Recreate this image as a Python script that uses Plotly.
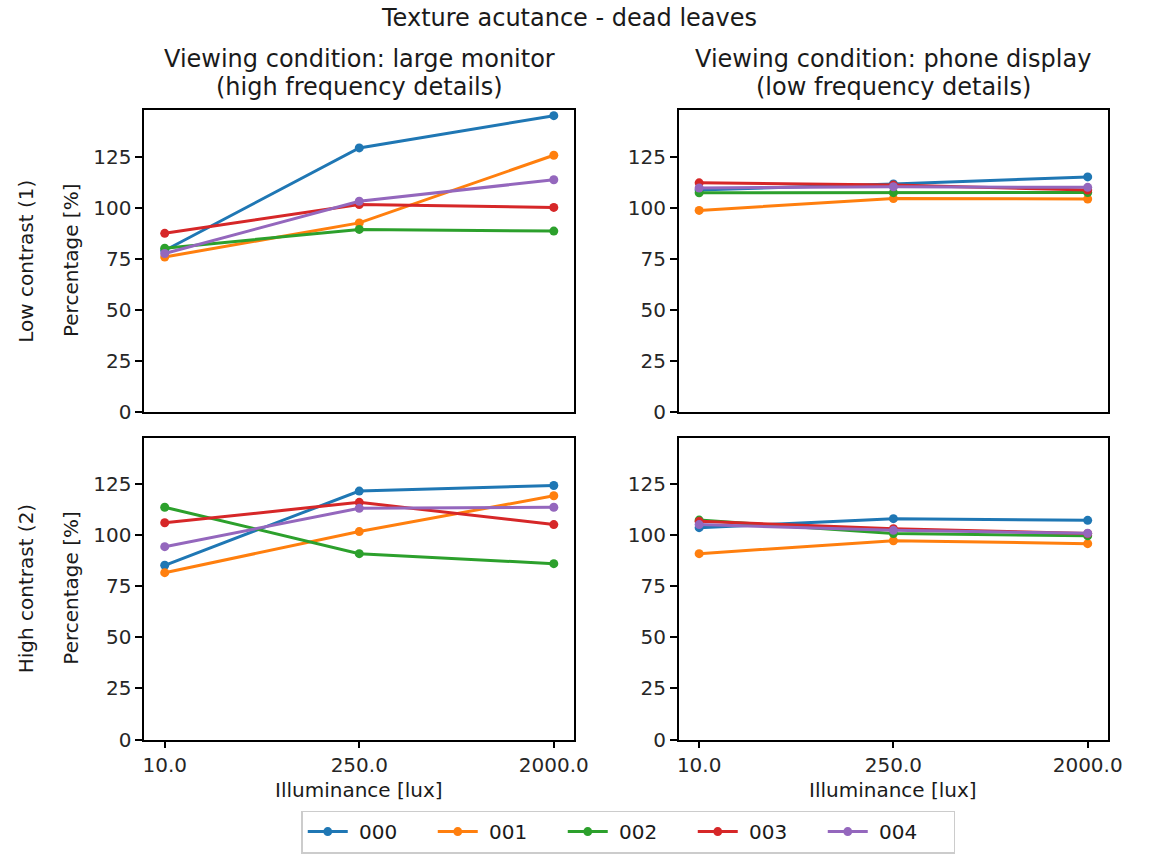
import plotly.graph_objects as go

# Illuminance levels (categorical x) and device series
illuminance = ["10.0", "250.0", "2000.0"]
series_names = ["000", "001", "002", "003", "004"]
colors = ["#1f77b4", "#ff7f0e", "#2ca02c", "#d62728", "#9467bd"]

# Low contrast, large monitor
low_monitor = {
    "000": [79.0, 129.2, 145.0],
    "001": [75.8, 92.5, 125.6],
    "002": [80.1, 89.3, 88.5],
    "003": [87.4, 101.5, 100.1],
    "004": [77.5, 103.1, 113.6],
}
# Low contrast, phone display
low_phone = {
    "000": [108.6, 111.6, 115.0],
    "001": [98.6, 104.4, 104.2],
    "002": [107.2, 107.3, 107.4],
    "003": [112.1, 111.0, 108.6],
    "004": [109.6, 110.2, 109.9],
}
# High contrast, large monitor
high_monitor = {
    "000": [85.2, 121.5, 124.2],
    "001": [81.6, 101.7, 119.2],
    "002": [113.6, 90.9, 86.0],
    "003": [106.0, 116.0, 105.1],
    "004": [94.3, 113.1, 113.6],
}
# High contrast, phone display
high_phone = {
    "000": [103.6, 108.0, 107.2],
    "001": [90.9, 97.2, 95.8],
    "002": [107.3, 100.7, 99.6],
    "003": [106.7, 103.1, 100.7],
    "004": [105.1, 102.3, 100.9],
}

W, H = 1149, 859
FONT = "DejaVu Sans"

# panel boxes in pixels: (left, right, top, bottom)
panels = {
    (1, 1): (144.3, 580.3, 111.7, 417.7),
    (1, 2): (686.3, 1121.7, 111.7, 417.7),
    (2, 1): (144.3, 580.3, 443.7, 750.0),
    (2, 2): (686.3, 1121.7, 443.7, 750.0),
}
panel_data = {
    (1, 1): low_monitor,
    (1, 2): low_phone,
    (2, 1): high_monitor,
    (2, 2): high_phone,
}

fig = go.Figure()
layout = {}
for idx, ((r, c), (l, rt, t, b)) in enumerate(panels.items(), start=1):
    xa = "xaxis" if idx == 1 else f"xaxis{idx}"
    ya = "yaxis" if idx == 1 else f"yaxis{idx}"
    xref = "x" if idx == 1 else f"x{idx}"
    yref = "y" if idx == 1 else f"y{idx}"
    bottom_row = r == 2
    layout[xa] = dict(
        domain=[l / W, rt / W], anchor=yref, type="category",
        categoryorder="array", categoryarray=illuminance,
        range=[-0.105, 2.105],
        showline=True, mirror=True, linecolor="black", linewidth=1.6,
        ticks="outside" if bottom_row else "", ticklen=7, tickwidth=1.6, tickcolor="black",
        showticklabels=bottom_row, showgrid=False, zeroline=False,
        tickfont=dict(family=FONT, size=20, color="#262626"),
    )
    layout[ya] = dict(
        domain=[1 - b / H, 1 - t / H], anchor=xref,
        range=[0, 147.7], tickvals=[0, 25, 50, 75, 100, 125],
        showline=True, mirror=True, linecolor="black", linewidth=1.6,
        ticks="outside", ticklen=7, tickwidth=1.6, tickcolor="black",
        showgrid=False, zeroline=False,
        tickfont=dict(family=FONT, size=20, color="#262626"),
    )
    data = panel_data[(r, c)]
    for name, col in zip(series_names, colors):
        fig.add_trace(go.Scatter(
            x=illuminance, y=data[name], mode="lines+markers",
            name="\u00a0" + name,  # small gap between legend handle and label
            line=dict(color=col, width=3), marker=dict(color=col, size=9),
            xaxis=xref, yaxis=yref, showlegend=(idx == 1),
        ))

ann = []
def text(x, y, s, size=20, angle=0):
    ann.append(dict(x=x / W, y=1 - y / H, xref="paper", yref="paper", text=s,
                    showarrow=False, textangle=angle, xanchor="center", yanchor="middle",
                    font=dict(family=FONT, size=size, color="#1a1a1a")))

text(575, 18, "Texture acutance - dead leaves", 24)
text(362.3, 60, "Viewing condition: large monitor", 24)
text(362.3, 88, "(high frequency details)", 24)
text(904, 60, "Viewing condition: phone display", 24)
text(904, 88, "(low frequency details)", 24)
text(24, 264.7, "Low contrast (1)", 20, -90)
text(24, 597, "High contrast (2)", 20, -90)
text(70, 264.7, "Percentage [%]", 20, -90)
text(70, 597, "Percentage [%]", 20, -90)
text(362.3, 801, "Illuminance [lux]", 20)
text(904, 801, "Illuminance [lux]", 20)

fig.update_layout(
    **layout,
    width=W, height=H,
    margin=dict(l=0, r=0, t=0, b=0),
    paper_bgcolor="white", plot_bgcolor="white",
    annotations=ann,
    showlegend=True,
    legend=dict(
        orientation="h", x=635 / W, xanchor="center", y=1 - 822 / H, yanchor="top",
        bordercolor="#cccccc", borderwidth=1.6, bgcolor="white",
        font=dict(family=FONT, size=20, color="#1a1a1a"),
        itemwidth=40, entrywidth=75, entrywidthmode="pixels",
    ),
)

fig.write_html("out.html")
